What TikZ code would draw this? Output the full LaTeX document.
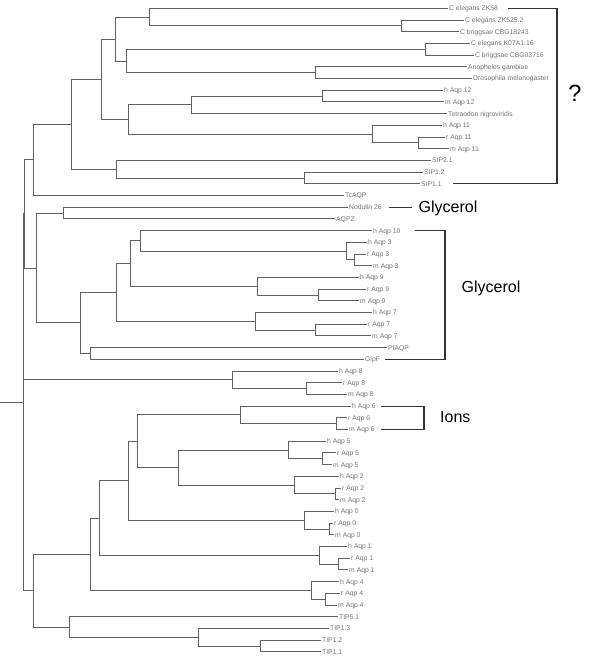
\documentclass[tikz,border=0pt]{standalone}
\usepackage{fontspec}
\setmainfont{Liberation Sans}
\newfontfamily\leaffont{Liberation Sans}
\newfontfamily\bigfont{Liberation Sans}
\begin{document}
\begin{tikzpicture}[x=1pt,y=-1pt,
  branch/.style={draw=black!62, line width=0.9pt},
  leaf/.style={anchor=west, inner sep=1pt, font=\leaffont\fontsize{6.8}{8}\selectfont, text=black!55, text height=4.9pt, text depth=0pt},
  bracket/.style={draw=black!80, line width=1.1pt},
  biglabel/.style={anchor=west, inner sep=0pt, font=\bigfont\fontsize{16}{18}\selectfont, text height=11.5pt, text depth=0pt},
  qlabel/.style={inner sep=0pt, font=\bigfont\fontsize{23.5}{26}\selectfont, text height=16.8pt, text depth=0pt}]
\useasboundingbox (0,0) rectangle (600,664);
% leaves
\node[leaf] (l1) at (448,8.3) {C elegans ZK58};
\node[leaf] (l2) at (464,20.0) {C elegans ZK525.2};
\node[leaf] (l3) at (459,31.7) {C briggsae CBG18243};
\node[leaf] (l4) at (470,43.4) {C elegans K07A1.16};
\node[leaf] (l5) at (474,55.1) {C briggsae CBG03716};
\node[leaf] (l6) at (467,66.8) {Anopheles gambiae};
\node[leaf] (l7) at (472,78.5) {Drosophila melanogaster};
\node[leaf] (l8) at (443,90.2) {h Aqp 12};
\node[leaf] (l9) at (444,101.9) {m Aqp 12};
\node[leaf] (l10) at (447,113.6) {Tetraodon nigroviridis};
\node[leaf] (l11) at (442,125.3) {h Aqp 11};
\node[leaf] (l12) at (445,137.0) {r Aqp 11};
\node[leaf] (l13) at (449,148.7) {m Aqp 11};
\node[leaf] (l14) at (431,160.4) {SIP2.1};
\node[leaf] (l15) at (423,172.1) {SIP1.2};
\node[leaf] (l16) at (420,183.8) {SIP1.1};
\node[leaf] (l17) at (344,195.5) {TcAQP};
\node[leaf] (l18) at (348,207.2) {Nodulin 26};
\node[leaf] (l19) at (335,218.9) {AQPZ};
\node[leaf] (l20) at (372,230.6) {h Aqp 10};
\node[leaf] (l21) at (367,242.3) {h Aqp 3};
\node[leaf] (l22) at (366,254.0) {r Aqp 3};
\node[leaf] (l23) at (372,265.7) {m Aqp 3};
\node[leaf] (l24) at (359,277.4) {h Aqp 9};
\node[leaf] (l25) at (366,289.1) {r Aqp 9};
\node[leaf] (l26) at (359,300.8) {m Aqp 9};
\node[leaf] (l27) at (372,312.5) {h Aqp 7};
\node[leaf] (l28) at (367,324.2) {r Aqp 7};
\node[leaf] (l29) at (371,335.9) {m Aqp 7};
\node[leaf] (l30) at (387,347.6) {PfAQP};
\node[leaf] (l31) at (364,359.3) {GlpF};
\node[leaf] (l32) at (338,371.0) {h Aqp 8};
\node[leaf] (l33) at (342,382.7) {r Aqp 8};
\node[leaf] (l34) at (347,394.4) {m Aqp 8};
\node[leaf] (l35) at (351,406.1) {h Aqp 6};
\node[leaf] (l36) at (347,417.8) {r Aqp 6};
\node[leaf] (l37) at (348,429.5) {m Aqp 6};
\node[leaf] (l38) at (326,441.2) {h Aqp 5};
\node[leaf] (l39) at (336,452.9) {r Aqp 5};
\node[leaf] (l40) at (332,464.6) {m Aqp 5};
\node[leaf] (l41) at (339,476.3) {h Aqp 2};
\node[leaf] (l42) at (341,488.0) {r Aqp 2};
\node[leaf] (l43) at (339,499.7) {m Aqp 2};
\node[leaf] (l44) at (334,511.4) {h Aqp 0};
\node[leaf] (l45) at (333,523.1) {r Aqp 0};
\node[leaf] (l46) at (334,534.8) {m Aqp 0};
\node[leaf] (l47) at (347,546.5) {h Aqp 1};
\node[leaf] (l48) at (350,558.2) {r Aqp 1};
\node[leaf] (l49) at (348,569.9) {m Aqp 1};
\node[leaf] (l50) at (339,581.6) {h Aqp 4};
\node[leaf] (l51) at (340,593.3) {r Aqp 4};
\node[leaf] (l52) at (337,605.0) {m Aqp 4};
\node[leaf] (l53) at (338,616.7) {TIP5.1};
\node[leaf] (l54) at (329,628.4) {TIP1.3};
\node[leaf] (l55) at (321,640.1) {TIP1.2};
\node[leaf] (l56) at (321,651.8) {TIP1.1};
% internal nodes
\coordinate (B) at (401,25.85);
\coordinate (A) at (149.5,17.08);
\coordinate (E) at (425,49.25);
\coordinate (F) at (315,72.65);
\coordinate (D) at (126,60.95);
\coordinate (C) at (115,39.0);
\coordinate (J) at (322,96.05);
\coordinate (I) at (191.7,104.8);
\coordinate (L) at (418,142.85);
\coordinate (K) at (372,134.1);
\coordinate (H) at (128,119.45);
\coordinate (G) at (101.7,79.2);
\coordinate (N) at (304,177.95);
\coordinate (M) at (116.7,169.2);
\coordinate (P) at (71.7,124.2);
\coordinate (Q) at (33.3,159.85);
\coordinate (T) at (63.3,213.05);
\coordinate (AM) at (354,259.85);
\coordinate (AL) at (346,251.1);
\coordinate (AK) at (140,240.85);
\coordinate (AO) at (318.5,294.95);
\coordinate (AN) at (257,286.2);
\coordinate (AJ) at (130,263.5);
\coordinate (AQ) at (315.4,330.05);
\coordinate (AP) at (255.8,321.3);
\coordinate (AI) at (116,292.4);
\coordinate (AR) at (90.7,353.45);
\coordinate (U) at (80,322.9);
\coordinate (S) at (36,268.0);
\coordinate (R) at (24.5,213.9);
\coordinate (AT) at (306.5,388.55);
\coordinate (AS) at (232,379.8);
\coordinate (AV) at (336.5,423.65);
\coordinate (AU) at (240,414.9);
\coordinate (AX) at (322,458.75);
\coordinate (AW) at (288.5,450.0);
\coordinate (AZ) at (335.8,493.85);
\coordinate (AY) at (294,485.1);
\coordinate (AH) at (178.3,467.55);
\coordinate (AG) at (137.7,441.2);
\coordinate (BB) at (329.6,528.95);
\coordinate (BA) at (304,520.2);
\coordinate (AF) at (128.3,480.7);
\coordinate (BD) at (338.5,564.05);
\coordinate (BC) at (319,555.3);
\coordinate (AD) at (99,518.0);
\coordinate (BF) at (325,599.15);
\coordinate (BE) at (311,590.4);
\coordinate (AA) at (90.7,554.2);
\coordinate (BG) at (260,645.95);
\coordinate (BH) at (198,637.2);
\coordinate (X) at (69,626.95);
\coordinate (W) at (33.3,590.6);
\coordinate (root) at (23,402.25);
\coordinate (rootstub) at (0,402.25);
% branches
\draw[branch] (rootstub) -- (root);
\foreach \p/\c in {B/l2.west,B/l3.west,A/l1.west,A/B,E/l4.west,E/l5.west,F/l6.west,F/l7.west,
  D/E,D/F,C/A,C/D,J/l8.west,J/l9.west,I/J,I/l10.west,L/l12.west,L/l13.west,K/l11.west,K/L,
  H/I,H/K,G/C,G/H,N/l15.west,N/l16.west,M/l14.west,M/N,P/G,P/M,Q/P,Q/l17.west,
  T/l18.west,T/l19.west,AM/l22.west,AM/l23.west,AL/l21.west,AL/AM,AK/l20.west,AK/AL,
  AO/l25.west,AO/l26.west,AN/l24.west,AN/AO,AJ/AK,AJ/AN,AQ/l28.west,AQ/l29.west,
  AP/l27.west,AP/AQ,AI/AJ,AI/AP,AR/l30.west,AR/l31.west,U/AI,U/AR,S/T,S/U,R/Q,R/S,
  AT/l33.west,AT/l34.west,AS/l32.west,AS/AT,AV/l36.west,AV/l37.west,AU/l35.west,AU/AV,
  AX/l39.west,AX/l40.west,AW/l38.west,AW/AX,AZ/l42.west,AZ/l43.west,AY/l41.west,AY/AZ,
  AH/AW,AH/AY,AG/AU,AG/AH,BB/l45.west,BB/l46.west,BA/l44.west,BA/BB,AF/AG,AF/BA,
  BD/l48.west,BD/l49.west,BC/l47.west,BC/BD,AD/AF,AD/BC,BF/l51.west,BF/l52.west,
  BE/l50.west,BE/BF,AA/AD,AA/BE,BG/l55.west,BG/l56.west,BH/l54.west,BH/BG,X/l53.west,X/BH,
  W/AA,W/X,root/R,root/AS,root/W}
  \draw[branch] (\p) |- (\c);
% annotations
\coordinate (qa) at (508,8.3);
\coordinate (qb) at (557,8.3);
\coordinate (qc) at (557,183.8);
\coordinate (qd) at (453,183.8);
\draw[bracket] (qa) -- (qb) -- (qc) -- (qd);
\node[qlabel] (qmark) at (575,93.5) {?};
\coordinate (ga) at (388.5,207.2);
\coordinate (gb) at (411.5,207.2);
\draw[bracket] (ga) -- (gb);
\node[biglabel] (glyc1) at (418.5,207) {Glycerol};
\coordinate (ha) at (415,230.6);
\coordinate (hb) at (445,230.6);
\coordinate (hc) at (445,359.3);
\coordinate (hd) at (385,359.3);
\draw[bracket] (ha) -- (hb) -- (hc) -- (hd);
\node[biglabel] (glyc2) at (461.5,287) {Glycerol};
\coordinate (ia) at (381,406.1);
\coordinate (ib) at (424,406.1);
\coordinate (ic) at (424,429.5);
\coordinate (id) at (381,429.5);
\draw[bracket] (ia) -- (ib) -- (ic) -- (id);
\node[biglabel] (ions) at (440,416.5) {Ions};
\end{tikzpicture}
\end{document}
